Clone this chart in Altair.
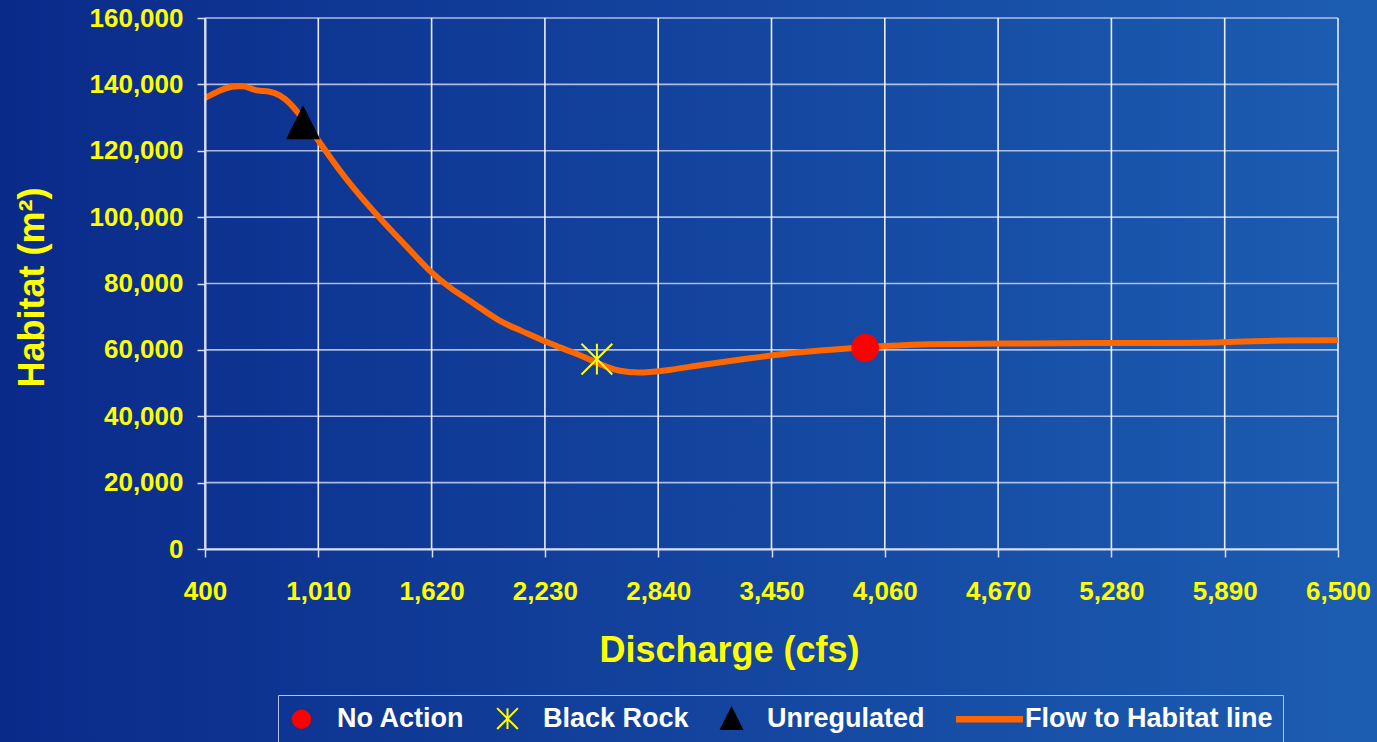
import altair as alt
import pandas as pd

# ---- data ----
line_x = [400, 481, 545, 605, 642, 680, 750, 804, 858, 911, 1008, 1073, 1143, 1234,
          1369, 1504, 1611, 1719, 1854, 1988, 2096, 2231, 2419, 2510, 2634, 2758,
          2904, 3065, 3334, 3603, 3873, 3954, 4142, 4249, 4680, 5218, 5488, 5864,
          6133, 6500]
line_y = [135900, 138300, 139500, 139500, 138900, 138000, 138000, 136800, 134400,
          130800, 123300, 118100, 112700, 106400, 97900, 90100, 83500, 78600, 73800,
          68400, 66000, 62400, 58500, 56000, 53300, 53000, 53900, 55400, 57500,
          59400, 60500, 60800, 61400, 61700, 61900, 62100, 62100, 62100, 62900, 62900]

marker_names = ["No Action", "Black Rock", "Unregulated"]
marker_x = [3954, 2510, 928]
marker_y = [60600, 57200, 128400]

series_names = ["No Action", "Black Rock", "Unregulated", "Flow to Habitat line"]
series_colors = ["#ff0000", "#ffff00", "#000000", "#ff6600"]

x_ticks = [400, 1010, 1620, 2230, 2840, 3450, 4060, 4670, 5280, 5890, 6500]
y_ticks = [0, 20000, 40000, 60000, 80000, 100000, 120000, 140000, 160000]

# ---- symbols ----
ASTER = "M0,-1.2L0,1.2M-1.2,-1.2L1.2,1.2M-1.2,1.2L1.2,-1.2"
TRI = "M0,-1.2L1.2,1.2L-1.2,1.2Z"
LINE = "M-3.75,-0.25L3.75,-0.25L3.75,0.25L-3.75,0.25Z"
series_shapes = ["circle", ASTER, TRI, LINE]

FONT = "Liberation Sans"
W, H = 1133, 531
PAD = {"left": 205, "top": 18, "right": 39, "bottom": 193}

line_df = pd.DataFrame({"Discharge": line_x, "Habitat": line_y,
                        "series": ["Flow to Habitat line"] * len(line_x)})
marker_df = pd.DataFrame({"Discharge": marker_x, "Habitat": marker_y,
                          "series": marker_names})
xt_df = pd.DataFrame({"Discharge": x_ticks})
yt_df = pd.DataFrame({"Habitat": y_ticks})

x_scale = alt.Scale(domain=[x_ticks[0], x_ticks[-1]], nice=False, zero=False)
y_scale = alt.Scale(domain=[y_ticks[0], y_ticks[-1]], nice=False)

fill_scale = alt.Scale(domain=series_names, range=series_colors)
stroke_scale = alt.Scale(domain=series_names, range=series_colors)
shape_scale = alt.Scale(domain=series_names, range=series_shapes)

x_axis = alt.Axis(values=x_ticks, format=",.0f", grid=False, zindex=1,
                  tickSize=8, labelPadding=21, labelFlush=False,
                  labelOverlap=False, title="Discharge (cfs)",
                  titleX=524, titleY=112, titleBaseline="alphabetic",
                  titleAlign="center")
y_axis = alt.Axis(values=y_ticks, format=",.0f", grid=False, zindex=1,
                  tickSize=8, labelPadding=14, labelOverlap=False,
                  title="Habitat (m²)", titleAngle=270, titleAlign="center",
                  titleBaseline="alphabetic", titleX=-162, titleY=269)


def X():
    return alt.X("Discharge:Q", scale=x_scale, axis=x_axis)


def Y():
    return alt.Y("Habitat:Q", scale=y_scale, axis=y_axis)


def leg():
    return alt.Legend(
        title=None, orient="none", legendX=73, legendY=677, direction="horizontal",
        padding=10, strokeColor="#b8c4e4", labelFont=FONT, labelFontSize=27,
        labelFontWeight="bold", labelColor="#ffffff", labelOffset=22,
        columnPadding=28, symbolSize=300, symbolStrokeWidth=2, labelLimit=500,
    )


gradient = alt.LinearGradient(
    gradient="linear",
    stops=[alt.GradientStop(offset=0, color="#0a2a8a"),
           alt.GradientStop(offset=1, color="#1c5db2")],
    x1=0, x2=1, y1=0, y2=0,
)

bg = alt.Chart(pd.DataFrame({"d": [0]})).mark_rect(color=gradient).encode(
    x=alt.value(-PAD["left"]), x2=alt.value(W + PAD["right"]),
    y=alt.value(-PAD["top"]), y2=alt.value(H + PAD["bottom"]),
)

hgrid = alt.Chart(yt_df).mark_rule(color="#c8d2ee", strokeWidth=1.6, opacity=0.85).encode(
    y=Y()
)
vgrid = alt.Chart(xt_df).mark_rule(color="#ffffff", strokeWidth=1.6, opacity=0.9).encode(
    x=X()
)

line = alt.Chart(line_df).mark_line(strokeWidth=6, interpolate="basis").encode(
    x=X(),
    y=Y(),
    stroke=alt.Stroke("series:N", scale=stroke_scale, legend=leg()),
)

markers = alt.Chart(marker_df).mark_point(
    filled=True, size=660, strokeWidth=2, opacity=1
).encode(
    x=X(),
    y=Y(),
    fill=alt.Fill("series:N", scale=fill_scale, legend=leg()),
    stroke=alt.Stroke("series:N", scale=stroke_scale, legend=leg()),
    shape=alt.Shape("series:N", scale=shape_scale, legend=leg()),
)

chart = alt.layer(bg, hgrid, vgrid, line, markers).properties(
    width=W, height=H, padding=PAD, autosize="none", background="#0b2e8f"
).configure_view(stroke=None).configure_axis(
    labelFont=FONT, labelFontSize=26, labelFontWeight="bold", labelColor="#ffff00",
    titleFont=FONT, titleFontSize=36, titleFontWeight="bold", titleColor="#ffff00",
    domainColor="#d8def2", domainWidth=2, tickColor="#d8def2", tickWidth=1.5,
)

chart.save("out.html", embed_options={"renderer": "svg", "actions": False})
